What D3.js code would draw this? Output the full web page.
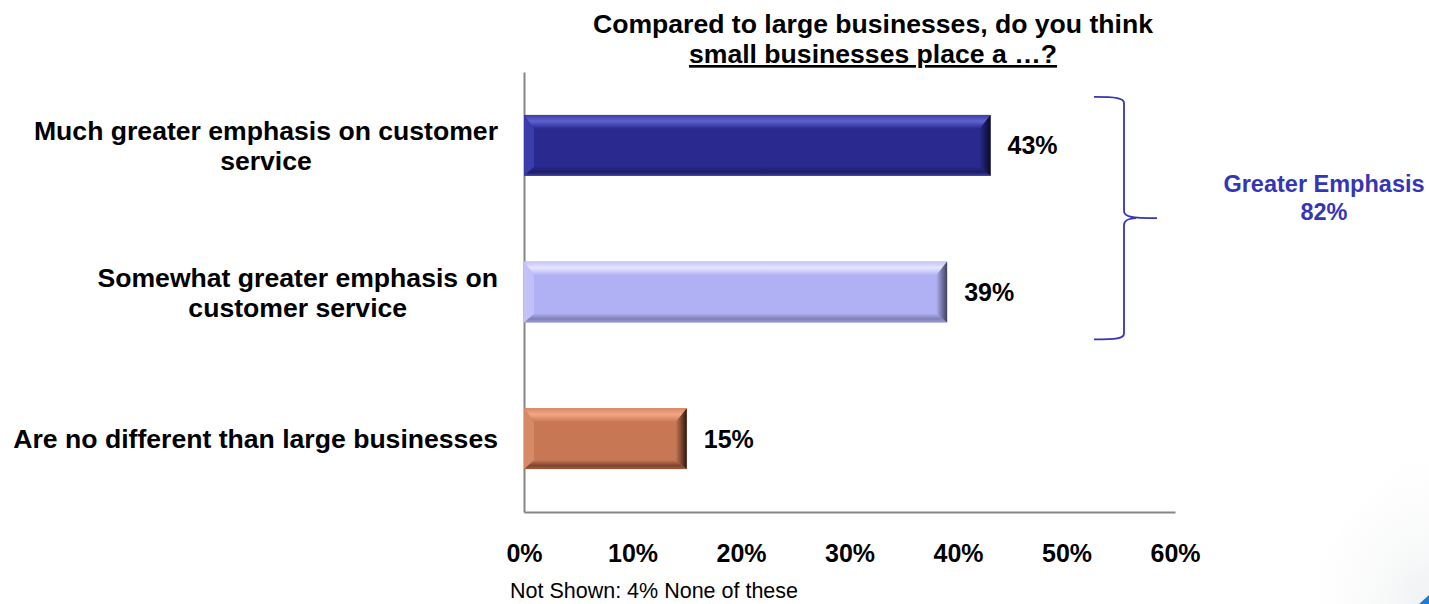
<!DOCTYPE html>
<html>
<head>
<meta charset="utf-8">
<script src="https://cdn.jsdelivr.net/npm/d3@7"></script>
<style>
  html, body { margin: 0; padding: 0; background: #ffffff; }
  svg { display: block; font-family: "Liberation Sans", Arial, sans-serif; }
</style>
</head>
<body>
<svg id="chart" width="1429" height="604"></svg>
<script>
// Survey answers, share of respondents
const categories = [
  ["Much greater emphasis on customer", "service"],
  ["Somewhat greater emphasis on", "customer service"],
  ["Are no different than large businesses"]
];
const values = [0.43, 0.39, 0.15];
const valueLabels = ["43%", "39%", "15%"];
const tickValues = [0, 0.1, 0.2, 0.3, 0.4, 0.5, 0.6];
const titleLines = ["Compared to large businesses, do you think", "small businesses place a \u2026?"];
const groupLabel = ["Greater Emphasis", "82%"];
const footnote = "Not Shown: 4% None of these";

// bevel palettes per bar: flat face, top edge, top highlight, left, bottom, bottom edge, right
const palettes = [
  { face: "#29298f", topEdge: "#3c3ea6", topHi: "#5f62cf", left: "#3a3cae", bottom: "#1c1c66", bottomEdge: "#3d3f9e", right: "#0b0b26" },
  { face: "#b0b0f4", topEdge: "#c4c4f6", topHi: "#e6e6ff", left: "#c0c0fa", bottom: "#8080b4", bottomEdge: "#9a9ad0", right: "#3f3f5e" },
  { face: "#c77754", topEdge: "#d88a66", topHi: "#f3a684", left: "#d58a68", bottom: "#7f4530", bottomEdge: "#a05a40", right: "#2e160e" }
];

const svg = d3.select("#chart");

const x = d3.scaleLinear().domain([0, 0.6]).range([524, 1175]);
const y = d3.scaleBand().domain(d3.range(categories.length))
  .range([72, 512]).paddingInner(0.585).paddingOuter(0.2925);

// faint backdrop swoosh in the lower-right corner
const defs = svg.append("defs");
const bgGrad = defs.append("radialGradient").attr("id", "bgGrad")
  .attr("cx", "100%").attr("cy", "100%").attr("r", "100%");
bgGrad.append("stop").attr("offset", "0%").attr("stop-color", "#e4e7e9");
bgGrad.append("stop").attr("offset", "100%").attr("stop-color", "#ffffff").attr("stop-opacity", 0);
svg.append("path")
  .attr("d", "M1290,604 C1330,540 1380,480 1429,430 L1429,604 Z")
  .attr("fill", "url(#bgGrad)").attr("opacity", 0.6);
svg.append("path")
  .attr("d", "M1419,604 L1429,595 L1429,604 Z")
  .attr("fill", "#1b7fd1");

// title
const title = svg.append("g").attr("font-weight", "bold").attr("font-size", 26.6)
  .attr("text-anchor", "middle").attr("fill", "#000");
title.append("text").attr("x", 873).attr("y", 33).text(titleLines[0]);
title.append("text").attr("x", 873).attr("y", 63)
  .attr("text-decoration", "underline").text(titleLines[1]);

// axes
svg.append("g")
  .attr("transform", `translate(0,${y.range()[1]})`)
  .call(d3.axisBottom(x).tickValues(tickValues).tickFormat(d3.format(".0%"))
    .tickSize(0).tickPadding(32))
  .call(g => g.select(".domain").attr("stroke", "#868686").attr("stroke-width", 2))
  .call(g => g.selectAll("text").attr("font-size", 25).attr("font-weight", "bold")
    .attr("fill", "#000").attr("font-family", "Liberation Sans, Arial, sans-serif"));

svg.append("g")
  .attr("transform", `translate(${x(0)},0)`)
  .call(d3.axisLeft(y).tickValues([]).tickSizeOuter(0))
  .call(g => g.select(".domain").attr("stroke", "#868686").attr("stroke-width", 2));

// bevelled bars
function vGrad(id, stops) {
  const g = defs.append("linearGradient").attr("id", id)
    .attr("x1", 0).attr("y1", 0).attr("x2", 0).attr("y2", 1);
  stops.forEach(([o, c]) => g.append("stop").attr("offset", o).attr("stop-color", c));
}
function hGrad(id, stops) {
  const g = defs.append("linearGradient").attr("id", id)
    .attr("x1", 0).attr("y1", 0).attr("x2", 1).attr("y2", 0);
  stops.forEach(([o, c]) => g.append("stop").attr("offset", o).attr("stop-color", c));
}

const bars = svg.append("g");
values.forEach((v, i) => {
  const p = palettes[i];
  const x0 = x(0), x1 = x(v), y0 = y(i), h = y.bandwidth(), y1 = y0 + h;
  const bl = 10, br = 11, bt = 14, bb = 9;
  vGrad(`top${i}`, [["0%", p.topEdge], ["45%", p.topHi], ["100%", p.face]]);
  vGrad(`bot${i}`, [["0%", p.face], ["60%", p.bottom], ["100%", p.bottomEdge]]);
  hGrad(`right${i}`, [["0%", p.face], ["100%", p.right]]);
  hGrad(`left${i}`, [["0%", p.topEdge], ["100%", p.left]]);
  const g = bars.append("g");
  g.append("rect").attr("x", x0).attr("y", y0).attr("width", x1 - x0).attr("height", h).attr("fill", p.face);
  g.append("path").attr("fill", `url(#top${i})`)
    .attr("d", `M${x0},${y0}L${x1},${y0}L${x1 - br},${y0 + bt}L${x0 + bl},${y0 + bt}Z`);
  g.append("path").attr("fill", `url(#bot${i})`)
    .attr("d", `M${x0},${y1}L${x1},${y1}L${x1 - br},${y1 - bb}L${x0 + bl},${y1 - bb}Z`);
  g.append("path").attr("fill", `url(#left${i})`)
    .attr("d", `M${x0},${y0}L${x0 + bl},${y0 + bt}L${x0 + bl},${y1 - bb}L${x0},${y1}Z`);
  g.append("path").attr("fill", `url(#right${i})`)
    .attr("d", `M${x1},${y0}L${x1 - br},${y0 + bt}L${x1 - br},${y1 - bb}L${x1},${y1}Z`);

  // value label
  svg.append("text").attr("x", x1 + 17).attr("y", y0 + h / 2 + 9)
    .attr("font-size", 25).attr("font-weight", "bold").attr("fill", "#000")
    .text(valueLabels[i]);
});

// category labels: block right-aligned at the axis, lines centred within the block
const labels = svg.append("g").attr("font-size", 26.6).attr("font-weight", "bold").attr("fill", "#000");
categories.forEach((lines, i) => {
  const cy = y(i) + y.bandwidth() / 2;
  const g = labels.append("g").attr("text-anchor", "middle");
  const texts = lines.map((ln, j) => g.append("text")
    .attr("y", cy + 9.5 + (j - (lines.length - 1) / 2) * 30).text(ln));
  const w = d3.max(texts, t => t.node().getComputedTextLength());
  texts.forEach(t => t.attr("x", 498 - w / 2));
});

// bracket grouping the two "greater emphasis" answers
const bTop = y(0) - 18, bBot = y(1) + y.bandwidth() + 17, bMid = (bTop + bBot) / 2;
const bx = 1094, vx = 1124, tip = 1157;
svg.append("path")
  .attr("fill", "none").attr("stroke", "#3535b5").attr("stroke-width", 1.8)
  .attr("d", `M${bx},${bTop} C${vx - 8},${bTop} ${vx},${bTop + 1} ${vx},${bTop + 6}
    L${vx},${bMid - 7} C${vx},${bMid - 2} ${vx + 6},${bMid} ${tip},${bMid}
    M${vx + 12},${bMid} C${vx + 6},${bMid} ${vx},${bMid + 2} ${vx},${bMid + 7}
    L${vx},${bBot - 6} C${vx},${bBot - 1} ${vx - 8},${bBot} ${bx},${bBot}`);

const grp = svg.append("g").attr("text-anchor", "middle").attr("font-weight", "bold")
  .attr("font-size", 23.5).attr("fill", "#3535b5");
grp.append("text").attr("x", 1324).attr("y", 192).text(groupLabel[0]);
grp.append("text").attr("x", 1324).attr("y", 220).text(groupLabel[1]);

// footnote
svg.append("text").attr("x", 510).attr("y", 598).attr("font-size", 21.5).attr("fill", "#000")
  .text(footnote);
</script>
</body>
</html>
